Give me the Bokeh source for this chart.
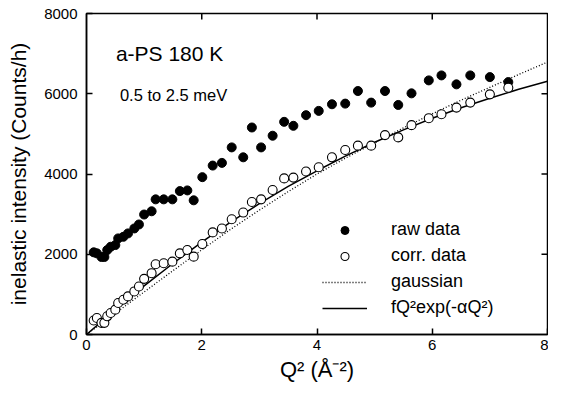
import math
from bokeh.plotting import figure
from bokeh.models import Range1d, Label, Legend, LegendItem, FixedTicker
from bokeh.embed import file_html
from bokeh.resources import INLINE

# ---- data ----
q2 = [0.125, 0.18, 0.26, 0.31, 0.36, 0.42, 0.50, 0.55, 0.64, 0.72, 0.83, 0.91,
      1.00, 1.13, 1.20, 1.34, 1.49, 1.62, 1.75, 1.86, 2.01, 2.19, 2.35, 2.52,
      2.72, 2.87, 3.03, 3.23, 3.43, 3.59, 3.81, 4.03, 4.26, 4.49, 4.71, 4.94,
      5.18, 5.41, 5.64, 5.94, 6.16, 6.42, 6.66, 7.00, 7.32]
raw = [2048, 2023, 1932, 1932, 2105, 2187, 2229, 2395, 2435, 2519, 2643, 2742,
       2990, 3071, 3368, 3368, 3368, 3574, 3591, 3344, 3921, 4210, 4277, 4663,
       4416, 5159, 4663, 4954, 5300, 5201, 5466, 5573, 5738, 5754, 6068, 5779,
       6068, 5721, 6010, 6333, 6457, 6234, 6457, 6415, 6291]
corr = [350, 410, 290, 290, 453, 537, 619, 785, 867, 949, 1073, 1196,
        1387, 1528, 1751, 1776, 1816, 2023, 2105, 1940, 2254, 2544, 2643, 2873,
        3039, 3302, 3368, 3600, 3890, 3910, 4062, 4169, 4416, 4598, 4706, 4706,
        4970, 4912, 5218, 5391, 5490, 5655, 5779, 5985, 6150]

curve_q2 = [0, 0.5, 1, 1.5, 2, 2.5, 3, 3.5, 4, 4.5, 5, 5.5, 6, 6.5, 7, 7.5, 8]
gaussian = [0, 530, 1060, 1590, 2110, 2620, 3100, 3560, 4000, 4400, 4780, 5150,
            5500, 5840, 6160, 6480, 6790]
fq2exp = [0, 620, 1210, 1770, 2300, 2800, 3260, 3690, 4080, 4450, 4790, 5100,
          5390, 5650, 5890, 6110, 6310]

x_ticks = [0, 2, 4, 6, 8]
y_ticks = [0, 2000, 4000, 6000, 8000]

title_text = "a-PS 180 K"
sub_text = "0.5 to 2.5 meV"
x_label = "Q² (Å⁻²)"
y_label = "inelastic intensity (Counts/h)"
legend_labels = ["raw data", "corr. data", "gaussian", "fQ²exp(-αQ²)"]

FONT = "Liberation Sans"
x_min, x_max = x_ticks[0], x_ticks[-1]
y_min, y_max = y_ticks[0], y_ticks[-1]

p = figure(width=548, height=384, output_backend="svg", toolbar_location=None,
           x_range=Range1d(x_min, x_max), y_range=Range1d(y_min, y_max),
           min_border_left=86, min_border_right=1, min_border_top=13,
           min_border_bottom=48)
p.background_fill_color = "white"
p.border_fill_color = "white"
p.grid.visible = False
p.outline_line_color = "black"
p.outline_line_width = 1.5

for ax in (p.xaxis[0], p.yaxis[0]):
    ax.major_tick_in = 6
    ax.major_tick_out = 0
    ax.minor_tick_line_color = None
    ax.axis_line_width = 1.5
    ax.major_tick_line_width = 1.5
    ax.major_label_text_font = FONT
    ax.major_label_text_font_size = "15px"
    ax.major_label_text_color = "black"
    ax.axis_label_text_font = FONT
    ax.axis_label_text_font_style = "normal"
    ax.axis_label_text_color = "black"

p.xaxis[0].ticker = FixedTicker(ticks=x_ticks)
p.yaxis[0].ticker = FixedTicker(ticks=y_ticks)
p.xaxis[0].axis_label = x_label
p.yaxis[0].axis_label = y_label
p.xaxis[0].axis_label_text_font_size = "22px"
p.yaxis[0].axis_label_text_font_size = "21px"
p.xaxis[0].major_label_standoff = 5
p.yaxis[0].major_label_standoff = 9
p.xaxis[0].axis_label_standoff = 4
p.yaxis[0].axis_label_standoff = 11

# mirrored inward ticks on the top and right edges of the frame
inner_y = y_ticks[1:-1]
inner_x = x_ticks[1:-1]
p.scatter([x_max] * len(inner_y), inner_y, marker="dash", size=12, angle=0,
          line_color="black", line_width=1.5)
p.scatter(inner_x, [y_max] * len(inner_x), marker="dash", size=12, angle=math.pi / 2,
          line_color="black", line_width=1.5)

r_gauss = p.line(curve_q2, gaussian, line_color="black", line_width=1.3, line_dash="1 2")
r_fit = p.line(curve_q2, fq2exp, line_color="black", line_width=1.5)
r_raw = p.scatter(q2, raw, marker="circle", size=9, fill_color="black", line_color="black")
r_corr = p.scatter(q2, corr, marker="circle", size=9, fill_color="white", line_color="black",
                   line_width=1.1)

legend = Legend(items=[LegendItem(label=legend_labels[0], renderers=[r_raw]),
                       LegendItem(label=legend_labels[1], renderers=[r_corr]),
                       LegendItem(label=legend_labels[2], renderers=[r_gauss]),
                       LegendItem(label=legend_labels[3], renderers=[r_fit])],
                location=(236, 16), border_line_color=None, background_fill_alpha=0,
                padding=0, margin=0, spacing=5, glyph_width=45, glyph_height=20,
                label_height=20, label_standoff=24, label_text_font=FONT,
                label_text_font_size="18px", label_text_color="black")
p.add_layout(legend)

p.add_layout(Label(x=0.51, y=7012, text=title_text, text_font=FONT, text_font_size="21px",
                   text_baseline="alphabetic", text_color="black"))
p.add_layout(Label(x=0.58, y=5968, text=sub_text, text_font=FONT, text_font_size="16.5px",
                   text_baseline="alphabetic", text_color="black"))

open("out.html", "w").write(file_html(p, INLINE))
